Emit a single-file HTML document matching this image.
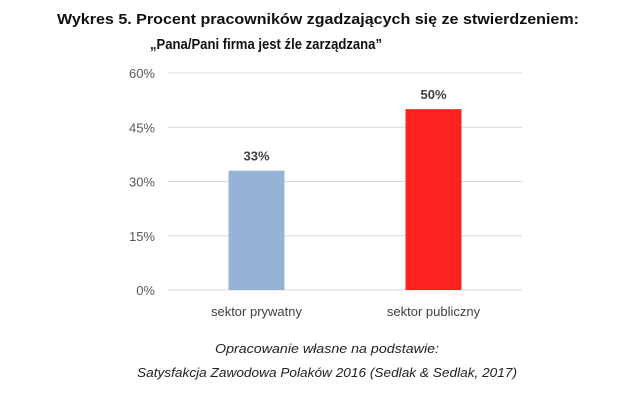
<!DOCTYPE html>
<html><head><meta charset="utf-8"><style>
html,body{margin:0;padding:0;background:#fff;}
svg{display:block;font-family:"Liberation Sans",sans-serif;}
</style></head><body>
<svg id="c" width="641" height="409" viewBox="0 0 641 409">
<text x="318" y="24" text-anchor="middle" font-size="15" font-weight="bold" fill="#111" textLength="522" lengthAdjust="spacingAndGlyphs">Wykres 5. Procent pracowników zgadzających się ze stwierdzeniem:</text>
<text x="266" y="49" text-anchor="middle" font-size="15" font-weight="bold" fill="#111" textLength="232" lengthAdjust="spacingAndGlyphs">„Pana/Pani firma jest źle zarządzana”</text>
<g id="grid"></g><g id="bars"></g>
<text x="327" y="353" text-anchor="middle" font-size="13" font-style="italic" fill="#222" textLength="224" lengthAdjust="spacingAndGlyphs">Opracowanie własne na podstawie:</text>
<text x="327" y="377" text-anchor="middle" font-size="13" font-style="italic" fill="#222" textLength="380" lengthAdjust="spacingAndGlyphs">Satysfakcja Zawodowa Polaków 2016 (Sedlak &amp; Sedlak, 2017)</text>
</svg>
<script>
const categories=["sektor prywatny","sektor publiczny"];
const values=[33,50];
const valueLabels=["33%","50%"];
const ticks=[0,15,30,45,60];
const tickLabels=["0%","15%","30%","45%","60%"];
const colors=["#95b3d7","#ff2020"];
const NS="http://www.w3.org/2000/svg";
const x0=168,x1=522,y0=290,y1=73,yMax=60;
const y=v=>y0-(v/yMax)*(y0-y1);
const band=(x1-x0)/categories.length;
const bw=56;
const grid=document.getElementById('grid'),bars=document.getElementById('bars');
function mk(tag,attrs,parent,txt){const e=document.createElementNS(NS,tag);for(const k in attrs)e.setAttribute(k,attrs[k]);if(txt!=null)e.textContent=txt;parent.appendChild(e);return e;}
ticks.forEach((t,i)=>{
 const l=mk('line',{x1:x0,x2:x1,y1:y(t),y2:y(t),stroke:'#d9d9d9','stroke-width':1},grid);
 
 
 const tx=mk('text',{x:155,y:y(t)+5,'text-anchor':'end','font-size':13,fill:'#595959'},grid,tickLabels[i]);
 
 
});
categories.forEach((c,i)=>{
 const cx=x0+band*(i+0.5);
 const r=mk('rect',{x:cx-bw/2,y:y(values[i]),width:bw,height:y0-y(values[i]),fill:colors[i]},bars);
 
 
 const v=mk('text',{x:cx,y:y(values[i])-10,'text-anchor':'middle','font-size':13,'font-weight':'bold',fill:'#404040'},bars,valueLabels[i]);
 
 
 const cl=mk('text',{x:cx,y:316,'text-anchor':'middle','font-size':13,fill:'#404040'},bars,c);
 
 
});
</script>
</body></html>
